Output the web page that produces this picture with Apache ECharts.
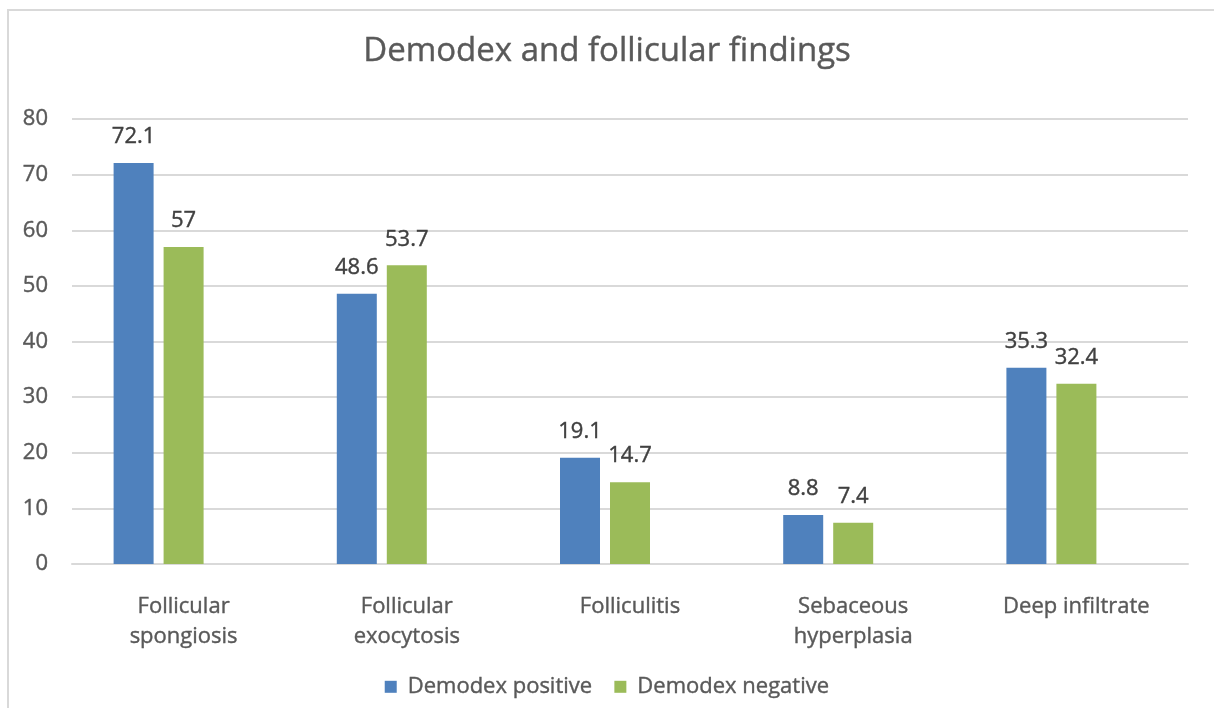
<!DOCTYPE html>
<html>
<head>
<meta charset="utf-8">
<script src="https://cdn.jsdelivr.net/npm/echarts@6/dist/echarts.min.js"></script>
<style>
  html, body { margin: 0; padding: 0; background: #fff; }
  #chart { width: 1214px; height: 708px; }
</style>
</head>
<body>
<div id="chart"></div>
<script>
// Findings shown along the x axis
const categories = ['Follicular\nspongiosis', 'Follicular\nexocytosis', 'Folliculitis', 'Sebaceous\nhyperplasia', 'Deep infiltrate'];
// Percentages per group
const demodexPositive = [72.1, 48.6, 19.1, 8.8, 35.3];
const demodexNegative = [57, 53.7, 14.7, 7.4, 32.4];
// Third bar slot in each cluster is left empty
const emptySlot = [null, null, null, null, null];
const yTicks = { min: 0, max: 80, interval: 10 };

const textColor = '#595959';
const font = '"Open Sans", "Noto Sans", sans-serif';
// slight stroke to give the text a heavier look
const heavy = (c) => ({ color: c, textBorderColor: c, textBorderWidth: 0.4 });

const chart = echarts.init(document.getElementById('chart'), null, { renderer: 'canvas' });

const labelStyle = Object.assign({
  show: true,
  position: 'top',
  distance: 15,
  fontSize: 22,
  fontFamily: font
}, heavy('#404040'));

chart.setOption({
  backgroundColor: '#ffffff',
  animation: false,
  graphic: [{
    type: 'rect',
    shape: { x: 8, y: 10, width: 1240, height: 740 },
    style: { fill: 'none', stroke: '#d9d9d9', lineWidth: 2 },
    silent: true
  }],
  title: {
    text: 'Demodex and follicular findings',
    left: 'center',
    top: 30,
    textStyle: Object.assign({ fontSize: 33, fontWeight: 'normal', fontFamily: font }, heavy(textColor))
  },
  legend: {
    data: ['Demodex positive', 'Demodex negative'],
    bottom: 5,
    left: 'center',
    itemWidth: 12,
    itemHeight: 12,
    itemGap: 22,
    icon: 'rect',
    textStyle: Object.assign({ fontSize: 22, fontFamily: font, padding: [0, 0, 0, 6] }, heavy(textColor))
  },
  grid: { left: 72, right: 26, top: 119, bottom: 144 },
  xAxis: {
    type: 'category',
    data: categories,
    axisLine: { lineStyle: { color: '#d9d9d9', width: 2 } },
    axisTick: { show: false },
    axisLabel: Object.assign({
      fontSize: 22,
      fontFamily: font,
      lineHeight: 30,
      margin: 28,
      interval: 0
    }, heavy(textColor))
  },
  yAxis: {
    type: 'value',
    min: yTicks.min,
    max: yTicks.max,
    interval: yTicks.interval,
    axisLine: { show: false },
    axisTick: { show: false },
    splitLine: { lineStyle: { color: '#d9d9d9', width: 2 } },
    axisLabel: Object.assign({ fontSize: 22, fontFamily: font, margin: 24 }, heavy(textColor))
  },
  series: [
    {
      name: 'Demodex positive',
      type: 'bar',
      data: demodexPositive,
      barWidth: 40,
      barGap: '25%',
      itemStyle: { color: '#4F81BD' },
      label: labelStyle
    },
    {
      name: 'Demodex negative',
      type: 'bar',
      data: demodexNegative,
      barWidth: 40,
      barGap: '25%',
      itemStyle: { color: '#9BBB59' },
      label: labelStyle
    },
    {
      name: 'empty',
      type: 'bar',
      data: emptySlot,
      barWidth: 40,
      barGap: '25%',
      itemStyle: { color: 'transparent' }
    }
  ]
});
</script>
</body>
</html>
